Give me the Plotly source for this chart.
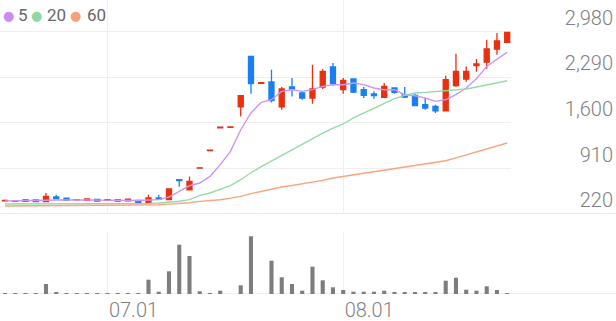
import plotly.graph_objects as go

# ---------------- data ----------------
dates = ["06.17", "06.18", "06.19", "06.20", "06.21", "06.24", "06.25", "06.26", "06.27", "06.28",
         "07.01", "07.02", "07.03", "07.04", "07.05", "07.08", "07.09", "07.10", "07.11", "07.12",
         "07.15", "07.16", "07.17", "07.18", "07.19", "07.22", "07.23", "07.24", "07.25", "07.26",
         "07.29", "07.30", "07.31", "08.01", "08.02", "08.05", "08.06", "08.07", "08.08", "08.09",
         "08.12", "08.13", "08.14", "08.16", "08.19", "08.20", "08.21", "08.22", "08.23", "08.26"]

opens = [418, 413, 410, 432, 407, 478, 462, 434, 426, 441,
         428, 437, 420, 426, 396, 463, 437, 740, 588, 916,
         1180, 1528, 1535, 1843, 2610, 2200, 2222, 1843, 2146, 2055,
         1979, 2146, 2449, 2105, 2267, 2105, 2040, 1988, 2131, 2029,
         2018, 1877, 1852, 1786, 2166, 2267, 2469, 2522, 2719, 2822]
highs = [440, 420, 440, 436, 540, 512, 465, 440, 452, 444,
         440, 440, 450, 430, 513, 513, 605, 745, 790, 920,
         1190, 1538, 1540, 2014, 2610, 2210, 2408, 2146, 2282, 2080,
         2484, 2419, 2510, 2282, 2275, 2146, 2080, 2207, 2140, 2146,
         2040, 1979, 1877, 2317, 2651, 2458, 2571, 2863, 2965, 2980]
lows = [410, 410, 405, 405, 400, 448, 422, 430, 423, 414,
        425, 414, 418, 393, 387, 444, 430, 634, 575, 916,
        1180, 1528, 1535, 1700, 2044, 2200, 1912, 1802, 2003, 1952,
        1893, 2116, 2166, 2044, 2055, 1979, 1968, 1979, 2044, 1979,
        1852, 1802, 1752, 1780, 2146, 2226, 2378, 2423, 2636, 2815]
closes = [428, 418, 435, 408, 487, 452, 426, 438, 448, 417,
          437, 417, 447, 396, 463, 447, 599, 725, 714, 920,
          1190, 1538, 1540, 2014, 2196, 2210, 1938, 2116, 2116, 1979,
          2116, 2382, 2196, 2246, 2070, 2018, 2014, 2155, 2064, 1994,
          1862, 1827, 1786, 2257, 2382, 2382, 2495, 2722, 2843, 2974]

ma5 = [418, 418, 420, 420, 428, 432, 435, 436, 432, 430,
       428, 427, 430, 425, 432, 438, 478, 558, 649, 690,
       790, 968, 1169, 1498, 1752, 1912, 1953, 2079, 2105, 2079,
       2105, 2155, 2181, 2181, 2207, 2181, 2131, 2105, 2105, 2029,
       2014, 1979, 1928, 1953, 2029, 2131, 2272, 2458, 2560, 2674]
ma20 = [372, 372, 373, 373, 374, 374, 375, 375, 375, 376,
        376, 376, 377, 377, 381, 387, 399, 414, 437, 502,
        538, 588, 649, 740, 846, 937, 1021, 1112, 1198, 1279,
        1365, 1445, 1521, 1585, 1676, 1752, 1827, 1903, 1969, 2018,
        2055, 2064, 2075, 2085, 2097, 2116, 2146, 2176, 2207, 2241]
ma60 = [341, 342, 343, 344, 345, 346, 347, 348, 349, 350,
        350, 351, 352, 353, 356, 361, 369, 376, 391, 411,
        422, 437, 460, 487, 528, 563, 596, 629, 652, 675,
        702, 730, 766, 790, 813, 837, 861, 884, 908, 931,
        955, 980, 1004, 1028, 1071, 1115, 1159, 1203, 1250, 1297]

volumes = [70, 50, 70, 50, 1000, 170, 100, 50, 50, 50,
           50, 50, 50, 70, 1430, 230, 2270, 4930, 3800, 270,
           100, 330, 0, 870, 5770, 0, 3330, 1670, 1000, 330,
           2730, 1370, 670, 400, 230, 230, 230, 330, 170, 170,
           170, 170, 130, 1330, 1630, 430, 330, 770, 400, 70]

price_ticks = [220, 910, 1600, 2290, 2980]
date_ticks = ["07.01", "08.01"]
ma_names = ["5", "20", "60"]

# ---------------- styles ----------------
UP = "#e8300f"
DOWN = "#1a7ff0"
MA_COLORS = ["#cf93f3", "#93dba6", "#f8a47f"]
LEG_COLORS = ["#c98cf0", "#8fd8a0", "#f7a07a"]
VOL_COLOR = "#7d7d7d"
GRID = "#efefef"
FONT = "Roboto"
TXT = "#808080"
W, H = 616, 321

fig = go.Figure()
fig.add_trace(go.Candlestick(
    x=dates, open=opens, high=highs, low=lows, close=closes,
    increasing=dict(line=dict(color=UP, width=1.3), fillcolor=UP),
    decreasing=dict(line=dict(color=DOWN, width=1.3), fillcolor=DOWN),
    whiskerwidth=0, xaxis="x", yaxis="y", showlegend=False, hoverinfo="skip"))
for vals, col, nm in zip([ma5, ma20, ma60], MA_COLORS, ma_names):
    fig.add_trace(go.Scatter(x=dates, y=vals, mode="lines", name=nm,
                             line=dict(color=col, width=1.4),
                             xaxis="x", yaxis="y", showlegend=False, hoverinfo="skip"))
# carrier trace for the right-hand price labels axis
fig.add_trace(go.Scatter(x=dates, y=closes, mode="none", xaxis="x", yaxis="y3",
                         showlegend=False, hoverinfo="skip"))
fig.add_trace(go.Bar(x=dates, y=volumes, marker=dict(color=VOL_COLOR, line=dict(width=0)),
                     width=0.4, xaxis="x2", yaxis="y2", showlegend=False, hoverinfo="skip"))

x_dom = [0, 511 / W]
x_range = [-0.488, 49.37]
fig.update_layout(
    width=W, height=H, margin=dict(l=0, r=0, t=0, b=0),
    paper_bgcolor="white", plot_bgcolor="white", showlegend=False,
    font=dict(family=FONT, color=TXT),
    xaxis=dict(domain=x_dom, type="category", range=x_range, anchor="y",
               showticklabels=False, tickvals=date_ticks, showgrid=True,
               gridcolor=GRID, gridwidth=1, zeroline=False, showline=False,
               ticks="", rangeslider=dict(visible=False), fixedrange=True),
    xaxis2=dict(domain=x_dom, type="category", range=x_range, anchor="y2",
                tickvals=date_ticks, ticktext=date_ticks, ticklabelshift=26,
                ticklabelstandoff=2,
                tickfont=dict(family=FONT, size=20, color=TXT, weight=300), showgrid=True,
                gridcolor=GRID, gridwidth=1, zeroline=False, showline=False, ticks=""),
    yaxis=dict(domain=[(H - 214) / H, 1], range=[220, 3465], tickvals=price_ticks,
               showticklabels=False, showgrid=True, gridcolor=GRID, gridwidth=1.2,
               zeroline=False, showline=False, ticks=""),
    yaxis3=dict(overlaying="y", range=[220, 3465], anchor="free", position=1.0,
                side="right", tickvals=price_ticks, tickformat=",",
                ticklabelposition="inside top", showgrid=False, zeroline=False,
                showline=False, ticks="",
                tickfont=dict(family=FONT, size=20, color=TXT, weight=300)),
    yaxis2=dict(domain=[(H - 294) / H, (H - 232) / H], range=[0, 6200],
                showticklabels=False, showgrid=False, zeroline=False, showline=False),
)

# panel separator and volume base line
fig.add_shape(type="line", xref="paper", yref="y", x0=0, x1=1, y0=220, y1=220,
              line=dict(color="#e9e9e9", width=2), layer="below")
fig.add_shape(type="line", xref="paper", yref="y2", x0=0, x1=1, y0=0, y1=0,
              line=dict(color="#e9e9e9", width=1.5), layer="below")

# legend of the moving averages (dot + label)
dot_x = [8.5, 36.5, 75.5]
txt_x = [16, 45, 85]
for c, n, dx, tx in zip(LEG_COLORS, ma_names, dot_x, txt_x):
    fig.add_annotation(text="●", xref="paper", yref="paper", x=dx / W, y=1 - 15 / H,
                       xanchor="center", yanchor="middle", showarrow=False,
                       font=dict(family="DejaVu Sans", size=13, color=c))
    fig.add_annotation(text=n, xref="paper", yref="paper", x=tx / W, y=1 - 15 / H,
                       xanchor="left", yanchor="middle", showarrow=False,
                       font=dict(family=FONT, size=17, color="#666666"))

fig.write_html("out.html")
